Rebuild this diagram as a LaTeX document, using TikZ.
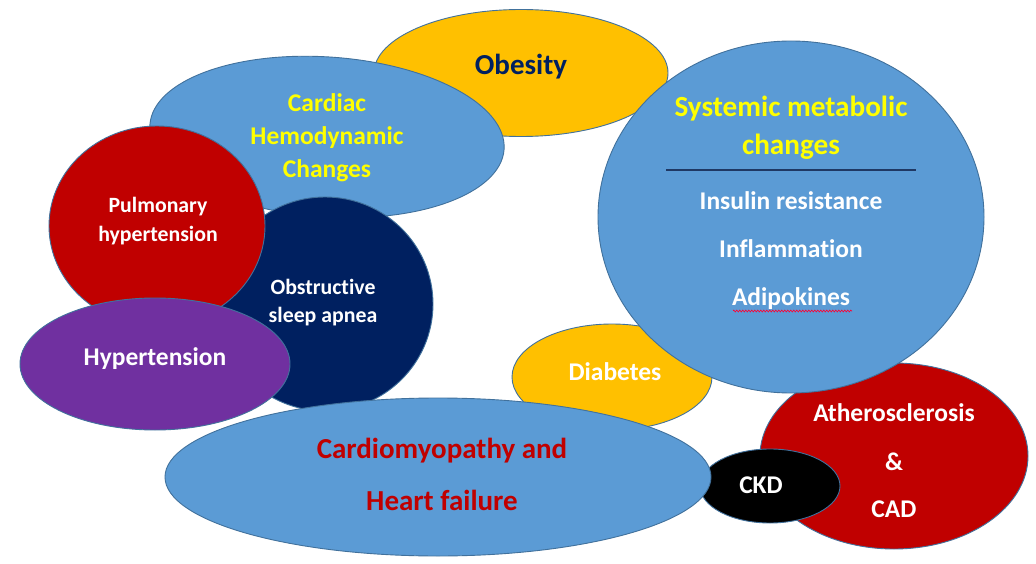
\documentclass[tikz,border=0pt]{standalone}
\usepackage{fontspec}
\setmainfont{Carlito}[Ligatures={NoCommon}]
\usetikzlibrary{shapes.geometric,decorations.pathmorphing}

\definecolor{blobblue}{HTML}{5B9BD5}
\definecolor{gold}{HTML}{FFC000}
\definecolor{darkred}{HTML}{C00000}
\definecolor{navy}{HTML}{002060}
\definecolor{purple}{HTML}{7030A0}
\definecolor{edge}{HTML}{41719C}
\definecolor{hiyellow}{HTML}{FFFF00}
\definecolor{rulecol}{HTML}{1F3864}

\tikzset{
  blob/.style={ellipse, draw=edge, line width=0.9pt, inner sep=0pt},
  lbl/.style={anchor=base, inner sep=0pt, font=\bfseries\fontsize{#1}{#1}\selectfont},
  lbl/.default=25.5
}

\begin{document}
\begin{tikzpicture}[x=1pt,y=-1pt]
\useasboundingbox (0,0) rectangle (1036,564);
\fill[white] (0,0) rectangle (1036,564);

% shapes, back to front
\node[blob, fill=gold, minimum width=294, minimum height=127] (obesity) at (521,73) {};
\node[blob, fill=blobblue, minimum width=355, minimum height=160, rotate=-4] (cardiac) at (327,137) {};
\node[blob, fill=navy, minimum width=216, minimum height=214] (osa) at (325,304) {};
\node[blob, fill=darkred, minimum width=216, minimum height=200] (pulm) at (157,226) {};
\node[blob, fill=purple, minimum width=270, minimum height=132] (htn) at (155,364) {};
\node[blob, fill=gold, minimum width=200, minimum height=106] (diab) at (612,377) {};
\node[blob, fill=darkred, minimum width=268, minimum height=186] (ather) at (894,456) {};
\node[blob, fill=blobblue, minimum width=386, minimum height=352] (sysmet) at (791,217) {};
\node[blob, fill=black, minimum width=140, minimum height=74] (ckd) at (770,486) {};
\node[blob, fill=blobblue, minimum width=546, minimum height=158] (cardio) at (438,477) {};

% labels
\node[lbl=29, text=navy] (obesityT) at (521,75) {Obesity};

\node[lbl=25.5, text=hiyellow] (cardiacA) at (327,112) {Cardiac};
\node[lbl=25.5, text=hiyellow] (cardiacB) at (327,145) {Hemodynamic};
\node[lbl=25.5, text=hiyellow] (cardiacC) at (327,178) {Changes};

\node[lbl=29.2, text=hiyellow] (sysA) at (791,117) {Systemic metabolic};
\node[lbl=29.2, text=hiyellow] (sysB) at (791,155) {changes};
\coordinate (ruleL) at (666,170);
\coordinate (ruleR) at (916,170);
\draw[rulecol, line width=2.2pt] (ruleL) -- (ruleR);
\node[lbl=25.5, text=white] (sysC) at (791,210) {Insulin resistance};
\node[lbl=25.5, text=white] (sysD) at (791,257) {Inflammation};
\node[lbl=25.5, text=white] (sysE) at (791,305) {Adipokines};
\coordinate (wavyL) at (733,311);
\coordinate (wavyR) at (852,311);
\draw[red!80!magenta, line width=0.6pt, decorate,
      decoration={zigzag, amplitude=1pt, segment length=3pt}] (wavyL) -- (wavyR);

\node[lbl=21.8, text=white] (pulmA) at (158,213) {Pulmonary};
\node[lbl=21.8, text=white] (pulmB) at (158,242) {hypertension};

\node[lbl=21.8, text=white] (osaA) at (323,294) {Obstructive};
\node[lbl=21.8, text=white] (osaB) at (323,322) {sleep apnea};

\node[lbl=25.5, text=white] (htnT) at (155,365) {Hypertension};

\node[lbl=25.5, text=white] (diabT) at (615,380) {Diabetes};

\node[lbl=25.5, text=white] (atherA) at (894,421) {Atherosclerosis};
\node[lbl=25.5, text=white] (atherB) at (894,470) {\&};
\node[lbl=25.5, text=white] (atherC) at (894,517) {CAD};

\node[lbl=25.5, text=white] (ckdT) at (761,493) {CKD};

\node[lbl=29, text=darkred] (cardioA) at (442,458) {Cardiomyopathy and};
\node[lbl=29, text=darkred] (cardioB) at (442,510) {Heart failure};
\end{tikzpicture}
\end{document}
